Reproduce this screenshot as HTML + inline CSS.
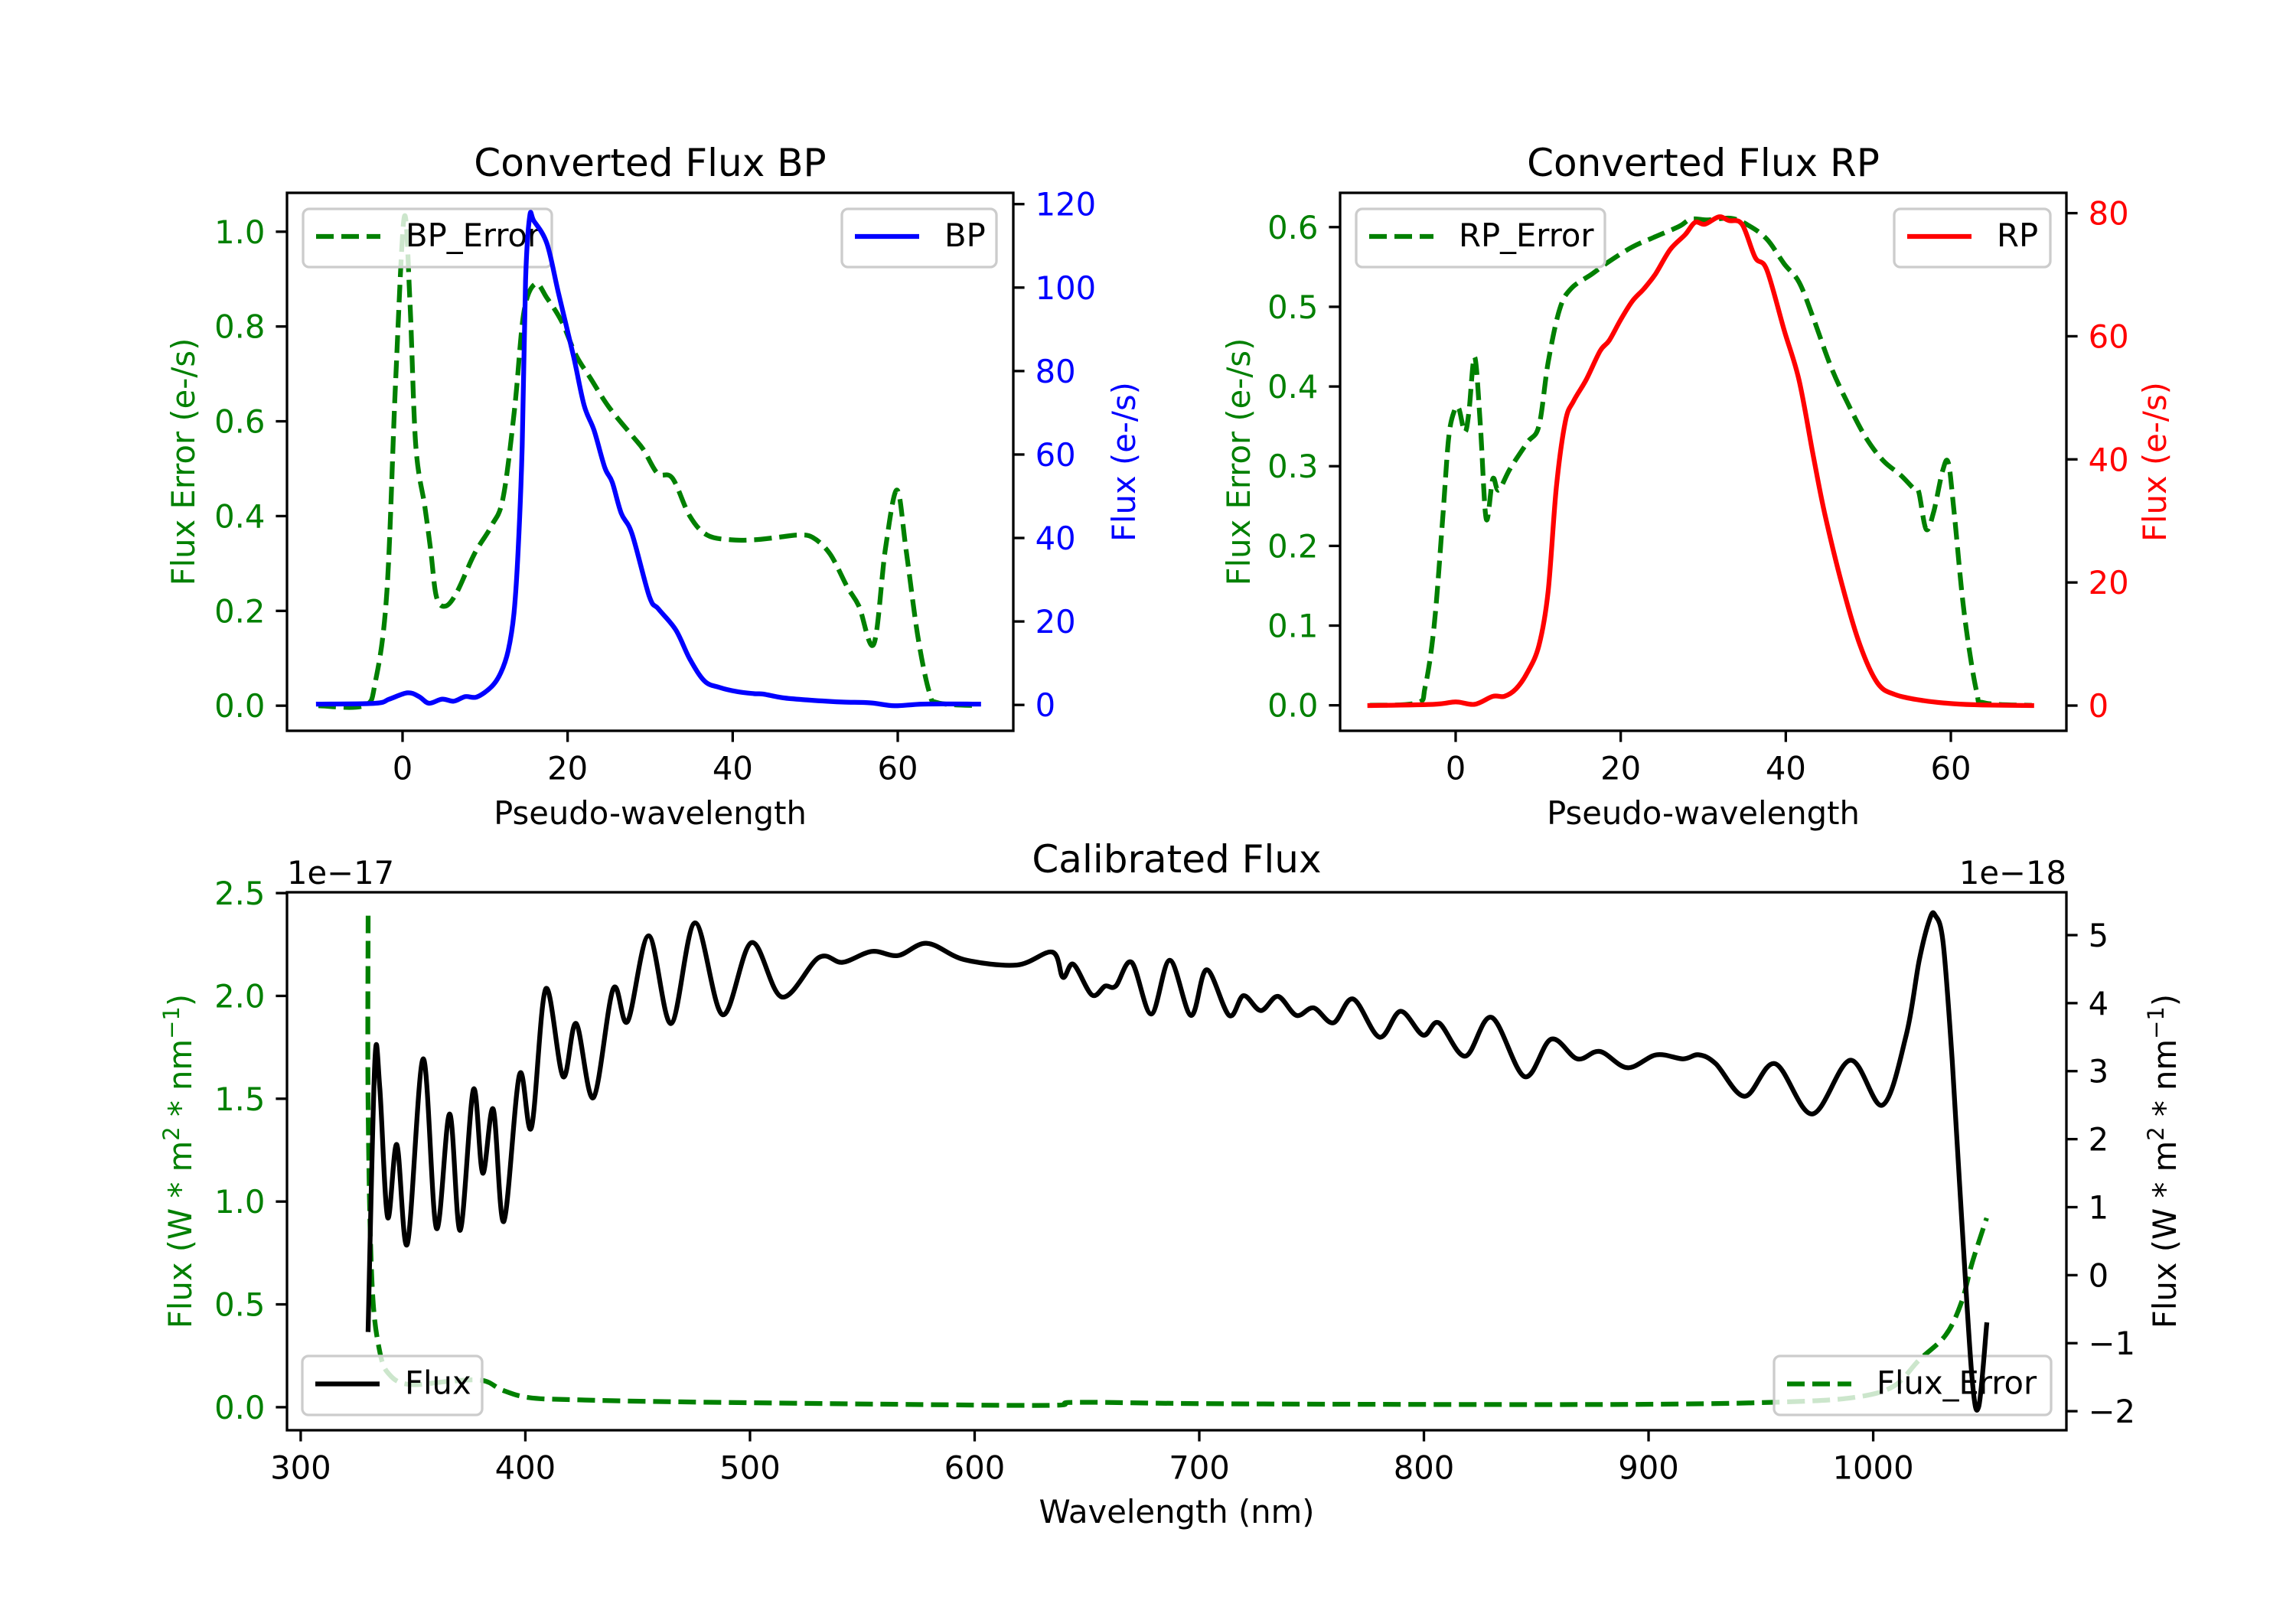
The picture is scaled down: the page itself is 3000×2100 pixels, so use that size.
<!DOCTYPE html>
<html><head><meta charset="utf-8"><style>
html,body{margin:0;padding:0;background:#fff}
svg{display:block;font-family:"DejaVu Sans","Liberation Sans",sans-serif}
</style></head><body>
<svg id="fig" width="3000" height="2100" viewBox="0 0 3000 2100" xmlns="http://www.w3.org/2000/svg"></svg>
<script>
// ---- data: BP panel ----
const bpX = [-10.2,-3.3,-1.6,0.6,2,3.2,4.8,6.2,7.6,9,10.8,11.9,12.8,13.5,14,14.5,14.9,15.4,15.9,17.5,18.9,20.7,22,23.2,24.5,25.4,26.5,27.8,29.9,31,33.1,34.8,36.6,38.4,40.5,42.6,43.7,46.1,49,53.2,56.7,59.6,63.1,69.8];
const bpY = [0.2,0.4,1.4,2.9,2,0.4,1.4,0.9,2,1.9,4.4,7.7,13,22,37,62,101.6,117,116,110.5,98.6,83.7,71.8,65.8,56.9,53.4,45.9,41,26,23,18,11,5.7,4.2,3.2,2.7,2.6,1.7,1.2,0.7,0.5,-0.2,0.2,0.2];
const bpErrX = [-10.2,-4.7,-3.3,-1.9,-0.85,0.2,0.9,1.6,2.7,3.4,4.1,5.2,6.6,8.7,10.8,12.2,13.6,14.7,16.1,17.5,19.3,21,22.8,25,27.8,29.2,30.9,32.7,34.8,36.9,39.8,42.6,45.4,47.9,49.7,51.8,53.9,55.3,57.1,58.5,59.9,61,62.4,63.8,64.9,69.8];
const bpErrY = [0,0,0.05,0.24,0.68,1.03,0.85,0.55,0.42,0.33,0.23,0.21,0.24,0.32,0.38,0.44,0.63,0.83,0.89,0.86,0.81,0.74,0.69,0.63,0.57,0.54,0.49,0.48,0.40,0.36,0.35,0.35,0.355,0.36,0.355,0.32,0.25,0.21,0.13,0.33,0.455,0.33,0.15,0.03,0.006,0];
// ---- data: RP panel ----
const rpX = [-10.4,-2.6,0,2.3,4.5,5.9,7.3,8.7,10.1,11.2,12.2,13.3,14.3,15.8,17.5,18.6,20,21.4,22.8,24.2,26,27.8,29,30.2,31.9,33.1,34.7,36.3,37.7,39.8,41.6,43.3,44.7,46.9,49,51.1,53.2,56.7,60.3,63.8,69.8];
const rpY = [0,0.2,0.6,0.2,1.5,1.5,2.7,5.4,9.8,18.5,35.4,46.2,49.5,52.9,57.6,59.3,62.7,65.7,67.7,70.1,74.1,76.5,78.5,78.2,79.4,78.8,78.2,72.8,70.8,61,52.9,40.8,31.3,19.2,9.8,3.7,1.8,0.8,0.3,0.1,0];
const rpErrX = [-10.4,-4.7,-3.7,-2.6,-1.6,-0.85,-0.14,0.4,1.1,1.6,2.3,3.0,3.7,4.5,5.2,6.6,8.7,10.1,11.2,12.6,14,16.5,18.6,21.4,24.2,27.1,28.5,30.6,33.4,35.5,37.7,39.8,41.6,43.3,45.5,47.6,49.7,51.8,53.9,55.4,56.1,57,57.9,59,59.7,60.4,61.6,63.1,64.1,69.8];
const rpErrY = [0,0.003,0.023,0.10,0.23,0.335,0.37,0.372,0.343,0.367,0.437,0.351,0.234,0.284,0.27,0.297,0.33,0.351,0.43,0.497,0.523,0.541,0.557,0.575,0.588,0.601,0.61,0.609,0.611,0.602,0.585,0.554,0.531,0.487,0.424,0.377,0.336,0.307,0.289,0.273,0.268,0.221,0.242,0.294,0.304,0.242,0.117,0.018,0.003,0];
// ---- data: calibrated panel ----
const flX = [330,333,335.2,338.7,342.8,347.5,354.5,360.4,366.3,371,376.9,381,385.7,390.4,397.4,402.7,409.1,416.8,422.6,430.3,439.1,445.5,454.9,464.9,475.5,487.8,500.7,514.2,530.6,541.2,554.2,565.9,578.8,595.3,618.8,634.6,639.3,644,652.2,658.1,662.8,669.9,678.6,686.9,696.3,703.3,713.3,719.7,727.4,735,743.2,750.9,759.7,768.5,780.2,789.6,799.6,806.6,818.4,830.1,844.8,856.6,868.3,878.3,890.6,903.5,915.3,922.3,929.9,942.8,956.3,972.8,989.8,1004.1,1014.7,1020.5,1025.2,1027.6,1031.1,1035.2,1039.3,1044,1047,1050.5];
const flY = [-0.8,3.14,2.76,0.85,1.92,0.46,3.18,0.69,2.37,0.66,2.73,1.5,2.44,0.79,2.95,2.17,4.21,2.92,3.7,2.61,4.21,3.73,4.99,3.70,5.18,3.83,4.89,4.09,4.67,4.60,4.76,4.70,4.88,4.64,4.56,4.75,4.38,4.57,4.12,4.25,4.25,4.60,3.84,4.63,3.82,4.49,3.82,4.11,3.89,4.10,3.82,3.93,3.71,4.06,3.50,3.88,3.53,3.71,3.22,3.79,2.92,3.47,3.18,3.29,3.05,3.24,3.18,3.24,3.11,2.63,3.11,2.37,3.16,2.50,3.53,4.63,5.24,5.29,4.89,3.14,0.88,-1.51,-1.93,-0.73];
const feX = [330,330,331.7,335.2,339.9,348.7,366.3,381,389.8,401.5,422,469,557,633.3,645,703.7,821,909,961.8,991.1,1008.8,1020.5,1032.2,1039.3,1044,1050.5];
const feY = [2.39,1.47,0.61,0.27,0.154,0.11,0.126,0.13,0.083,0.047,0.036,0.026,0.015,0.009,0.024,0.017,0.013,0.015,0.026,0.047,0.10,0.23,0.35,0.51,0.70,0.92];
// ---- tick labels ----
const bpXTicks = [0,20,40,60];
const bpErrTicks = ["0.0","0.2","0.4","0.6","0.8","1.0"];
const bpTicks = ["0","20","40","60","80","100","120"];
const rpErrTicks = ["0.0","0.1","0.2","0.3","0.4","0.5","0.6"];
const rpTicks = ["0","20","40","60","80"];
const wlTicks = [300,400,500,600,700,800,900,1000];
const calLTicks = ["0.0","0.5","1.0","1.5","2.0","2.5"];
const calRTicks = ["\u22122","\u22121","0","1","2","3","4","5"];

const NS="http://www.w3.org/2000/svg";
const svg=document.getElementById('fig');
function mk(tag,attrs,parent,text){const e=document.createElementNS(NS,tag);for(const k in attrs)e.setAttribute(k,attrs[k]);if(text!==undefined)e.textContent=text;(parent||svg).appendChild(e);return e;}
function scale(d0,d1,p0,p1){return v=>p0+(v-d0)/(d1-d0)*(p1-p0);}
const FS=41.7, LW=6.25, TL=14.6;

function path(xs,ys,sx,sy,color,dash,name,g){
  const P=xs.map((x,i)=>[sx(x),sy(+ys[i])]);
  let d='M'+P[0][0].toFixed(1)+','+P[0][1].toFixed(1);
  const t=0.5/3;
  for(let i=0;i<P.length-1;i++){
    const p0=P[Math.max(0,i-1)],p1=P[i],p2=P[i+1],p3=P[Math.min(P.length-1,i+2)];
    const c1=[p1[0]+(p2[0]-p0[0])*t,p1[1]+(p2[1]-p0[1])*t];
    const c2=[p2[0]-(p3[0]-p1[0])*t,p2[1]-(p3[1]-p1[1])*t];
    d+='C'+c1[0].toFixed(1)+','+c1[1].toFixed(1)+' '+c2[0].toFixed(1)+','+c2[1].toFixed(1)+' '+p2[0].toFixed(1)+','+p2[1].toFixed(1);
  }
  const p=mk('path',{d:d,fill:'none',stroke:color,'stroke-width':LW,'stroke-linejoin':'round','stroke-linecap':dash?'butt':'square'},g);
  if(dash)p.setAttribute('stroke-dasharray','23,10');
  
  
  return p;
}
function yTicks(vals,labels,sy,x,side,color,g){
  vals.forEach((v,i)=>{const y=sy(v);
    const x2=side<0?x-TL:x+TL;
    mk('line',{x1:x,y1:y,x2:x2,y2:y,stroke:'#000','stroke-width':3.3},g);
    const t=mk('text',{x:side<0?x2-14:x2+14,y:y+15,'font-size':FS,fill:color,'text-anchor':side<0?'end':'start'},g,labels[i]);
    
    
  });
}
function xTicks(vals,sx,y,g){
  vals.forEach(v=>{const x=sx(v);
    mk('line',{x1:x,y1:y,x2:x,y2:y+TL,stroke:'#000','stroke-width':3.3},g);
    const t=mk('text',{x:x,y:y+TL+14+35,'font-size':FS,'text-anchor':'middle'},g,String(v));
    
    
  });
}
function legend(x0,y0,x1,y1,color,dash,label,name,g){
  const lg=mk('g',{},g);
  
  
  mk('rect',{x:x0,y:y0,width:x1-x0,height:y1-y0,rx:8,fill:'#fff','fill-opacity':0.8,stroke:'#cccccc','stroke-width':3.3},lg);
  const cy=(y0+y1)/2-2;
  const l=mk('line',{x1:x0+17,y1:cy,x2:x0+101,y2:cy,stroke:color,'stroke-width':LW},lg);
  if(dash)l.setAttribute('stroke-dasharray','23,10');
  mk('text',{x:x0+134,y:cy+13,'font-size':FS},lg,label);
}
function frame(x0,y0,x1,y1,g){mk('rect',{x:x0,y:y0,width:x1-x0,height:y1-y0,fill:'none',stroke:'#000','stroke-width':3.3},g);}
function vlabel(x,y,color,content,name,g){
  const t=mk('text',{x:x,y:y,'font-size':FS,fill:color,'text-anchor':'middle',transform:`rotate(-90 ${x} ${y})`},g);
  t.innerHTML=content;
  
  
}
function hlabel(x,y,size,text,name,g,anchor){
  const t=mk('text',{x:x,y:y,'font-size':size,'text-anchor':anchor||'middle'},g,text);
  
  
}

// ===== BP panel =====
(function(){
  const g=mk('g',{});
  const X0=375,X1=1324,Y0=252,Y1=955;
  const sx=scale(-14,74,X0,X1);
  const sl=scale(-0.053,1.082,Y1,Y0);
  const sr=scale(-6.2,122.7,Y1,Y0);
  path(bpErrX,bpErrY,sx,sl,'green',true,'bp-error-line',g);
  legend(396,273,721,349,'green',true,'BP_Error','bp-error-legend',g);
  path(bpX,bpY,sx,sr,'blue',false,'bp-line',g);
  legend(1100,273,1302,349,'blue',false,'BP','bp-legend',g);
  frame(X0,Y0,X1,Y1,g);
  xTicks(bpXTicks,sx,Y1,g);
  yTicks(bpErrTicks.map(Number),bpErrTicks,sl,X0,-1,'green',g);
  yTicks(bpTicks.map(Number),bpTicks,sr,X1,1,'blue',g);
  vlabel(254,(Y0+Y1)/2,'green','Flux Error (e-/s)','bp-left-axis-title',g);
  vlabel(1483,(Y0+Y1)/2,'blue','Flux (e-/s)','bp-right-axis-title',g);
  hlabel((X0+X1)/2,1077,FS,'Pseudo-wavelength','bp-x-axis-title',g);
  hlabel((X0+X1)/2,230,50,'Converted Flux BP','bp-title',g);
})();
// ===== RP panel =====
(function(){
  const g=mk('g',{});
  const X0=1751,X1=2700,Y0=252,Y1=955;
  const sx=scale(-14,74,X0,X1);
  const sl=scale(-0.032,0.643,Y1,Y0);
  const sr=scale(-4.1,83.3,Y1,Y0);
  path(rpErrX,rpErrY,sx,sl,'green',true,'rp-error-line',g);
  legend(1772,273,2097,349,'green',true,'RP_Error','rp-error-legend',g);
  path(rpX,rpY,sx,sr,'red',false,'rp-line',g);
  legend(2475,273,2679,349,'red',false,'RP','rp-legend',g);
  frame(X0,Y0,X1,Y1,g);
  xTicks(bpXTicks,sx,Y1,g);
  yTicks(rpErrTicks.map(Number),rpErrTicks,sl,X0,-1,'green',g);
  yTicks(rpTicks.map(Number),rpTicks,sr,X1,1,'red',g);
  vlabel(1633,(Y0+Y1)/2,'green','Flux Error (e-/s)','rp-left-axis-title',g);
  vlabel(2830,(Y0+Y1)/2,'red','Flux (e-/s)','rp-right-axis-title',g);
  hlabel((X0+X1)/2,1077,FS,'Pseudo-wavelength','rp-x-axis-title',g);
  hlabel((X0+X1)/2,230,50,'Converted Flux RP','rp-title',g);
})();
// ===== Calibrated panel =====
(function(){
  const g=mk('g',{});
  const X0=375,X1=2700,Y0=1166,Y1=1869;
  const sx=scale(293.9,1086,X0,X1);
  const sl=scale(-0.112,2.504,Y1,Y0);
  const sr=scale(-2.28,5.63,Y1,Y0);
  path(feX,feY,sx,sl,'green',true,'flux-error-line',g);
  legend(395,1772,630,1849,'#000',false,'Flux','flux-legend',g);
  legend(2318,1772,2680,1849,'green',true,'Flux_Error','flux-error-legend',g);
  path(flX,flY,sx,sr,'#000',false,'flux-line',g);
  frame(X0,Y0,X1,Y1,g);
  xTicks(wlTicks,sx,Y1,g);
  yTicks(calLTicks.map(Number),calLTicks,sl,X0,-1,'green',g);
  yTicks([-2,-1,0,1,2,3,4,5],calRTicks,sr,X1,1,'#000',g);
  const lab='Flux (W * m<tspan dy="-16" font-size="29">2</tspan><tspan dy="16"> * nm</tspan><tspan dy="-16" font-size="29">\u22121</tspan><tspan dy="16">)</tspan>';
  vlabel(250,(Y0+Y1)/2,'green',lab,'flux-left-axis-title',g);
  vlabel(2843,(Y0+Y1)/2,'#000',lab,'flux-right-axis-title',g);
  hlabel((X0+X1)/2,1990,FS,'Wavelength (nm)','wavelength-axis-title',g);
  hlabel((X0+X1)/2,1140,50,'Calibrated Flux','calibrated-title',g);
  hlabel(X0,1155,FS,'1e\u221217','left-offset-text',g,'start');
  hlabel(X1,1155,FS,'1e\u221218','right-offset-text',g,'end');
})();
</script>
</body></html>
